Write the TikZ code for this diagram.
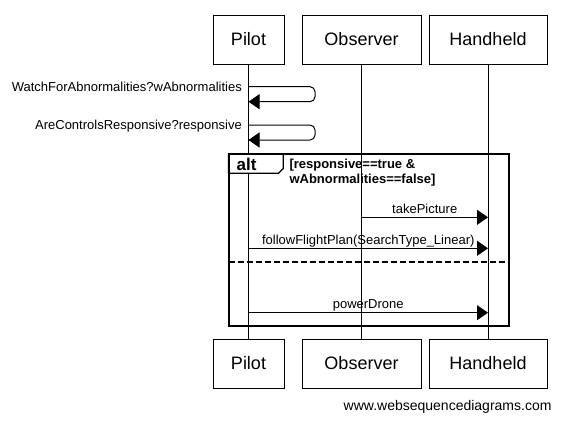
\documentclass[tikz,border=0pt]{standalone}
\usepackage{fontspec}
\setmainfont{Liberation Sans}
\usetikzlibrary{arrows.meta}
\begin{document}
\begin{tikzpicture}[x=1pt,y=-1pt,
  head/.style={draw,line width=1pt,minimum height=49pt,inner sep=0pt,font=\fontsize{18}{20}\selectfont},
  life/.style={line width=1pt},
  msg/.style={line width=1pt,-{Triangle[length=11pt,width=15pt]}},
  lbl/.style={font=\fontsize{13}{15}\selectfont,inner sep=0pt},
  cond/.style={font=\bfseries\fontsize{13}{15}\selectfont,inner sep=0pt,anchor=base west},
  framebox/.style={inner sep=0pt}]
\useasboundingbox[fill=white] (0,0) rectangle (562,423);
% heads
\node[head,minimum width=71pt] (pilotT) at (248.5,39.5) {Pilot};
\node[head,minimum width=119pt] (obsT) at (361.5,39.5) {Observer};
\node[head,minimum width=118pt] (handT) at (488,39.5) {Handheld};
\node[head,minimum width=71pt] (pilotB) at (248.5,363.5) {Pilot};
\node[head,minimum width=119pt] (obsB) at (361.5,363.5) {Observer};
\node[head,minimum width=118pt] (handB) at (488,363.5) {Handheld};
% lifelines
\draw[life] (pilotT.south) -- (pilotB.north);
\draw[life] (obsT.south) -- (obsB.north);
\draw[life] (handT.south) -- (handB.north);
% self messages
\coordinate (s1a) at (248.5,86.7);
\coordinate (s1b) at (248.5,101.7);
\coordinate (s2a) at (248.5,125);
\coordinate (s2b) at (248.5,140);
\draw[msg,rounded corners=5pt] (s1a) -- (315,86.7) -- (315,101.7) -- (s1b);
\draw[msg,rounded corners=5pt] (s2a) -- (315,125) -- (315,140) -- (s2b);
\node[lbl,anchor=base east] (l1) at (242,91.5) {WatchForAbnormalities?wAbnormalities};
\node[lbl,anchor=base east] (l2) at (242,129.8) {AreControlsResponsive?responsive};
% alt frame
\node[framebox,minimum width=280pt,minimum height=171.5pt,anchor=north west] (frame) at (228.5,154) {};
\draw[line width=1.2pt,fill=white] (228.5,154) -- (283.3,154) -- (283.3,168.5) -- (278.5,173.3) -- (228.5,173.3) -- cycle;
\draw[line width=2pt] (frame.north west) rectangle (frame.south east);
\node[font=\bfseries\fontsize{17}{19}\selectfont,inner sep=0pt,anchor=base west] (alt) at (236.5,170) {alt};
\node[cond] (c1) at (289.3,168.3) {[responsive==true \&};
\node[cond] (c2) at (289.3,183.3) {wAbnormalities==false]};
% messages
\coordinate (m1a) at (361.5,217.3);
\coordinate (m1b) at (488,217.3);
\draw[msg] (m1a) -- (m1b);
\node[lbl,anchor=base] at (424.75,213) {takePicture};
\coordinate (m2a) at (248.5,248.3);
\coordinate (m2b) at (488,248.3);
\draw[msg] (m2a) -- (m2b);
\node[lbl,anchor=base] at (368.25,244) {followFlightPlan(SearchType\_Linear)};
\coordinate (sepL) at (228.5,261.7);
\coordinate (sepR) at (508.5,261.7);
\draw[line width=2pt,dash pattern=on 6pt off 3pt] (sepL) -- (sepR);
\coordinate (m3a) at (248.5,312.7);
\coordinate (m3b) at (488,312.7);
\draw[msg] (m3a) -- (m3b);
\node[lbl,anchor=base] at (368.25,308.3) {powerDrone};
% footer
\node[font=\fontsize{14}{16}\selectfont,inner sep=0pt,anchor=base east] (foot) at (551.7,410) {www.websequencediagrams.com};
\end{tikzpicture}
\end{document}
